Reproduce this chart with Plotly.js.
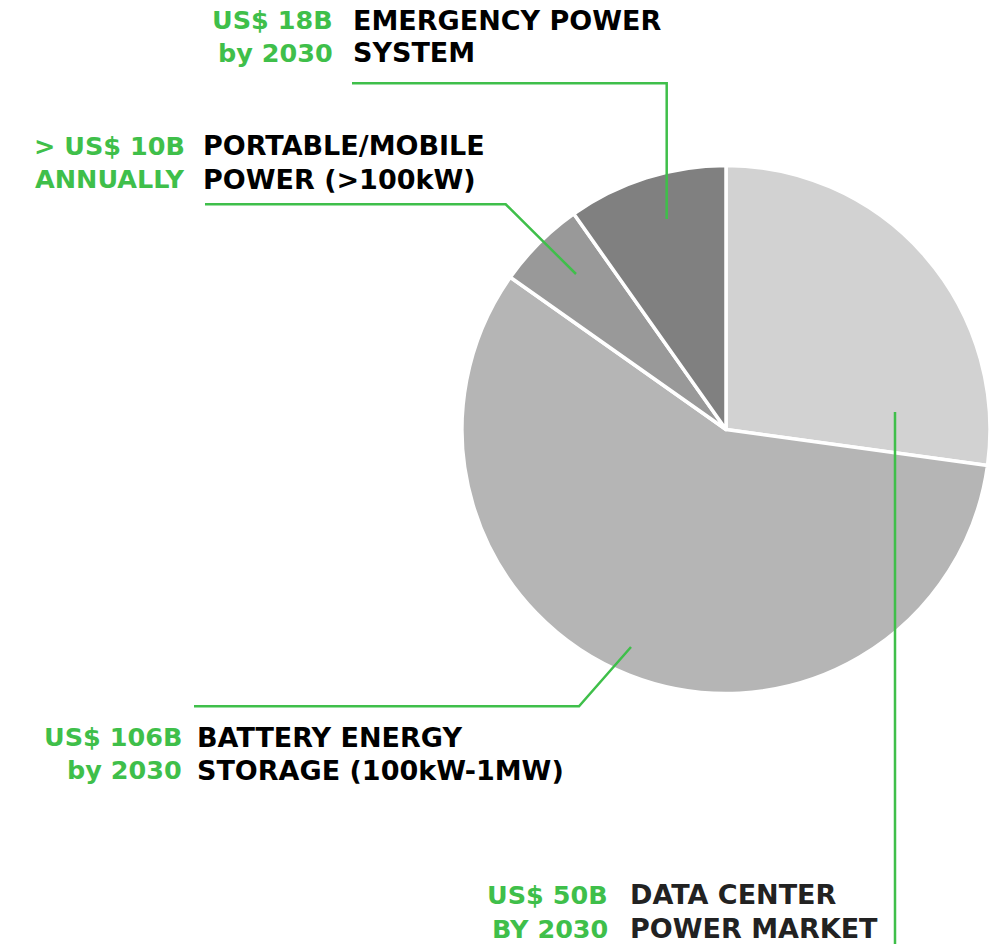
<!DOCTYPE html>
<html>
<head>
<meta charset="utf-8">
<script src="https://cdn.plot.ly/plotly-3.0.1.min.js"></script>
<style>
html,body{margin:0;padding:0;background:#fff;}
#chart{width:1001px;height:946px;}
</style>
</head>
<body>
<div id="chart"></div>
<script>
// ---- data ----
var segments = ["Data Center Power Market", "Battery Energy Storage (100kW-1MW)", "Portable/Mobile Power (>100kW)", "Emergency Power System"];
var values = [50, 106, 10, 18];
var valueLine1 = ["US$ 50B", "US$ 106B", "> US$ 10B", "US$ 18B"];
var valueLine2 = ["BY 2030", "by 2030", "ANNUALLY", "by 2030"];
var labelLine1 = ["DATA CENTER", "BATTERY ENERGY", "PORTABLE/MOBILE", "EMERGENCY POWER"];
var labelLine2 = ["POWER MARKET", "STORAGE (100kW-1MW)", "POWER (>100kW)", "SYSTEM"];
var sliceColors = ["#d2d2d2", "#b5b5b5", "#999999", "#808080"];

// ---- layout helpers (pixel -> paper) ----
var W = 1001, H = 946;
function px(x){ return x / W; }
function py(y){ return 1 - y / H; }

var GREEN = "#3fbf4a";
var FONT = "DejaVu Sans, sans-serif";
var FS_VAL = 25.5;
var FS_LAB = 27;

// pie geometry
var cx = 726, cy = 429.5, r = 264;

// text placement per segment: value right edge, label left edge, cap-middle y for two lines
var textPos = [
  {vx: 610, lx: 628, y1: 894.5, y2: 928.5, labelColor: "#222222"},
  {vx: 184, lx: 195, y1: 737, y2: 770, labelColor: "#000000"},
  {vx: 187, lx: 201, y1: 146, y2: 179, labelColor: "#000000"},
  {vx: 335, lx: 351, y1: 20, y2: 53, labelColor: "#000000"}
];

// leader polylines (pixel coords)
var leaders = [
  [[895, 412], [895, 944]],
  [[631, 647], [579, 706.3], [194, 706.3]],
  [[576, 274], [505.7, 204.3], [205, 204.3]],
  [[666.7, 219], [666.7, 83.3], [352, 83.3]]
];

var annotations = [];
for (var i = 0; i < segments.length; i++) {
  var t = textPos[i];
  annotations.push({xref:"paper", yref:"paper", x:px(t.vx), y:py(t.y1), xanchor:"right", yanchor:"middle",
    text:valueLine1[i], showarrow:false, font:{family:FONT, size:FS_VAL, color:GREEN, weight:700}});
  annotations.push({xref:"paper", yref:"paper", x:px(t.vx), y:py(t.y2), xanchor:"right", yanchor:"middle",
    text:valueLine2[i], showarrow:false, font:{family:FONT, size:FS_VAL, color:GREEN, weight:700}});
  annotations.push({xref:"paper", yref:"paper", x:px(t.lx), y:py(t.y1), xanchor:"left", yanchor:"middle",
    text:labelLine1[i], showarrow:false, font:{family:FONT, size:FS_LAB, color:t.labelColor, weight:700}});
  annotations.push({xref:"paper", yref:"paper", x:px(t.lx), y:py(t.y2), xanchor:"left", yanchor:"middle",
    text:labelLine2[i], showarrow:false, font:{family:FONT, size:FS_LAB, color:t.labelColor, weight:700}});
}

var shapes = leaders.map(function(pts){
  var d = pts.map(function(p, k){ return (k ? "L" : "M") + px(p[0]) + "," + py(p[1]); }).join(" ");
  return {type:"path", xref:"paper", yref:"paper", path:d, line:{color:GREEN, width:2.5}, layer:"above"};
});

var trace = {
  type: "pie",
  labels: segments,
  values: values,
  sort: false,
  direction: "clockwise",
  rotation: 0,
  textinfo: "none",
  hoverinfo: "label+value",
  marker: {colors: sliceColors, line: {color: "#ffffff", width: 3.5}},
  domain: {x: [px(cx - r), px(cx + r)], y: [py(cy + r), py(cy - r)]},
  showlegend: false
};

var layout = {
  width: W, height: H,
  margin: {l:0, r:0, t:0, b:0},
  paper_bgcolor: "#ffffff",
  plot_bgcolor: "#ffffff",
  showlegend: false,
  annotations: annotations,
  shapes: shapes
};

Plotly.newPlot("chart", [trace], layout, {displayModeBar:false, staticPlot:true});
</script>
</body>
</html>
